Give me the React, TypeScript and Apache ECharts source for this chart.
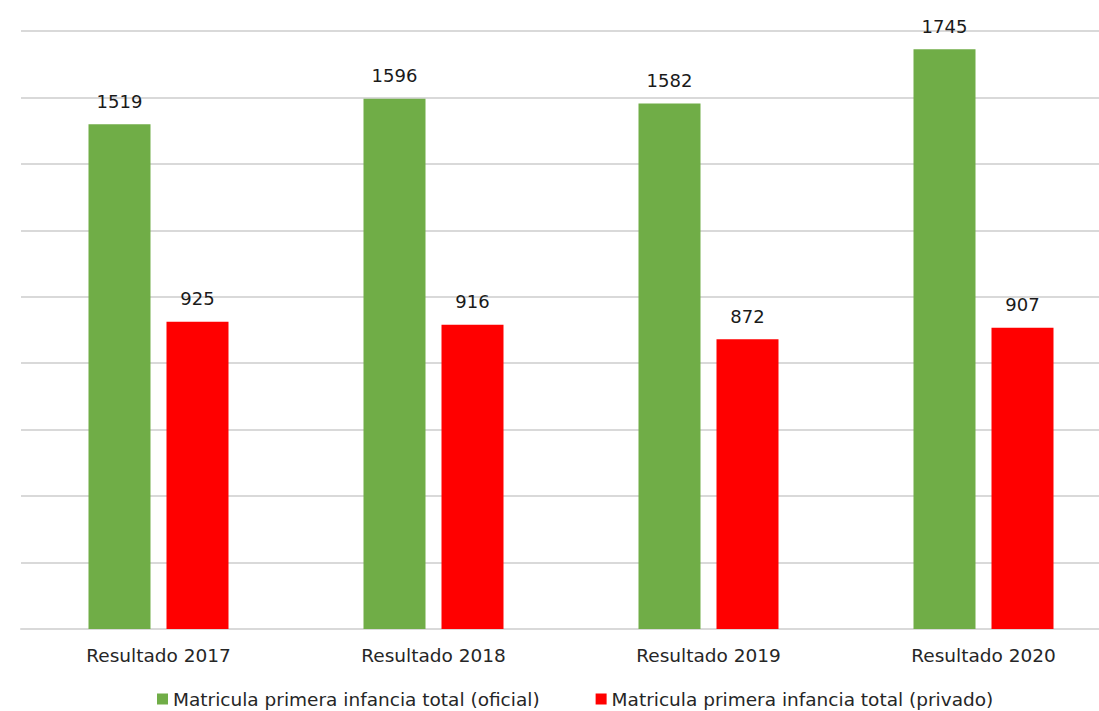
import React, { useEffect, useRef } from "react";
import * as echarts from "echarts";

const categories = ["Resultado 2017", "Resultado 2018", "Resultado 2019", "Resultado 2020"];
const oficial = [1519, 1596, 1582, 1745];
const privado = [925, 916, 872, 907];
const seriesNames = [
  "Matricula primera infancia total (oficial)",
  "Matricula primera infancia total (privado)",
];

export default function App() {
  const ref = useRef<HTMLDivElement>(null);
  useEffect(() => {
    if (!ref.current) return;
    const chart = echarts.init(ref.current, undefined, { renderer: "svg" });
    const font = "DejaVu Sans, Verdana, sans-serif";
    chart.setOption({
      animation: false,
      textStyle: { fontFamily: font },
      grid: { left: 21, right: 9, top: 31, bottom: 82, containLabel: false },
      legend: {
        left: 152,
        top: 684,
        itemWidth: 11,
        itemHeight: 11,
        itemGap: 56,
        icon: "rect",
        textStyle: { fontSize: 18.5, color: "#262626", fontFamily: font, lineHeight: 20 },
        data: seriesNames,
      },
      xAxis: {
        type: "category",
        data: categories,
        axisLine: { show: true, lineStyle: { color: "#d9d9d9", width: 2 } },
        axisTick: { show: false },
        axisLabel: { fontSize: 18.5, color: "#262626", margin: 17, fontFamily: font },
      },
      yAxis: {
        type: "value",
        min: 0,
        max: 1800,
        interval: 200,
        axisLabel: { show: false },
        axisLine: { show: false },
        axisTick: { show: false },
        splitLine: { lineStyle: { color: "#d9d9d9", width: 2 } },
      },
      series: [
        {
          name: seriesNames[0],
          type: "bar",
          data: oficial,
          barWidth: 62,
          barGap: "25.8%",
          itemStyle: { color: "#70AD47" },
          label: {
            show: true,
            position: "top",
            distance: 14,
            fontSize: 18,
            color: "#1a1a1a",
            fontFamily: font,
          },
        },
        {
          name: seriesNames[1],
          type: "bar",
          data: privado,
          barWidth: 62,
          itemStyle: { color: "#FF0000" },
          label: {
            show: true,
            position: "top",
            distance: 14,
            fontSize: 18,
            color: "#1a1a1a",
            fontFamily: font,
          },
        },
      ],
    });
    return () => chart.dispose();
  }, []);
  return (
    <div
      style={{
        position: "fixed",
        left: 0,
        top: 0,
        width: 1099,
        height: 711,
        overflow: "hidden",
        background: "#fff",
      }}
    >
      <div ref={ref} style={{ width: 1130, height: 711 }} />
    </div>
  );
}
